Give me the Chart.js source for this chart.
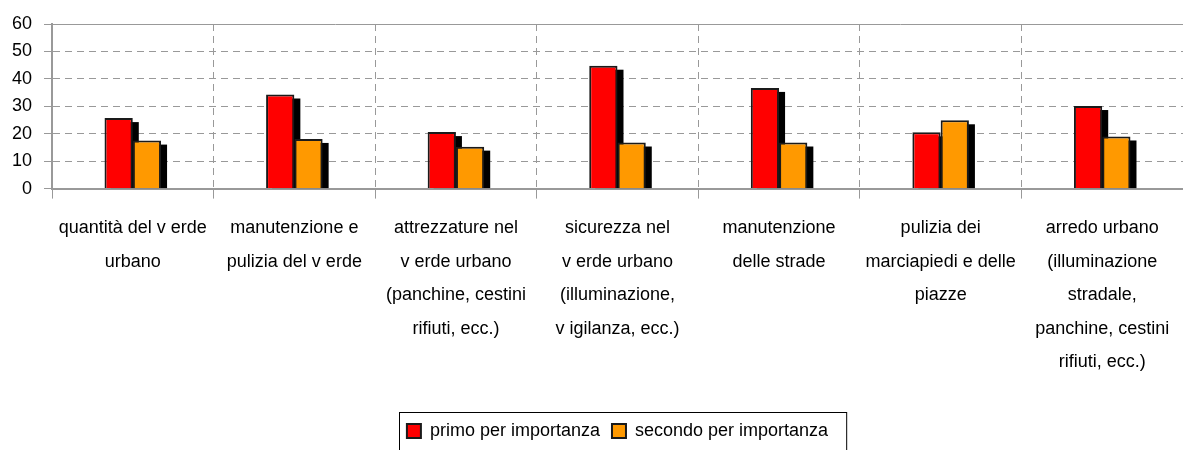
<!DOCTYPE html>
<html>
<head>
<meta charset="utf-8">
<script src="https://cdn.jsdelivr.net/npm/chart.js@4"></script>
<style>
  html, body { margin: 0; padding: 0; background: #fff; overflow: hidden; }
  #wrap { width: 1183px; height: 450px; }
</style>
</head>
<body>
<div id="wrap"><canvas id="myChart"></canvas></div>
<script>
// categorie (etichette asse x, già spezzate in righe)
const categories = [
  ['quantità del v erde', 'urbano'],
  ['manutenzione e', 'pulizia del v erde'],
  ['attrezzature nel', 'v erde urbano', '(panchine, cestini', 'rifiuti, ecc.)'],
  ['sicurezza nel', 'v erde urbano', '(illuminazione,', 'v igilanza, ecc.)'],
  ['manutenzione', 'delle strade'],
  ['pulizia dei', 'marciapiedi e delle', 'piazze'],
  ['arredo urbano', '(illuminazione', 'stradale,', 'panchine, cestini', 'rifiuti, ecc.)']
]
const primo = [25.7, 34.3, 20.6, 44.8, 36.7, 20.5, 30.1]
const secondo = [17.5, 18.1, 15.3, 16.8, 16.8, 24.9, 19.0]
const seriesNames = ['primo per importanza', 'secondo per importanza']
const yTicks = [0, 10, 20, 30, 40, 50, 60]

const FONT = "'Liberation Sans', Arial, sans-serif"

// ombra nera dietro le barre
const barShadow = {
  id: 'barShadow',
  beforeDatasetsDraw(chart) {
    const ctx = chart.ctx
    ctx.save()
    ctx.fillStyle = '#000'
    chart.data.datasets.forEach((ds, i) => {
      chart.getDatasetMeta(i).data.forEach(bar => {
        const w = bar.width
        ctx.fillRect(bar.x - w / 2 + 6, bar.y + 4, w, bar.base - bar.y - 4)
      })
    })
    ctx.restore()
  }
}

// legenda centrata sull'area del grafico, con cornice
const legendFrame = {
  id: 'legendFrame',
  afterLayout(chart) {
    const lg = chart.legend
    const shift = (chart.chartArea.left + chart.chartArea.right) / 2 - (lg.left + lg.right) / 2
    lg.left += shift
    lg.right += shift
  },
  afterDraw(chart) {
    const lg = chart.legend
    if (!lg || !lg.legendHitBoxes.length) return
    const boxes = lg.legendHitBoxes
    const left = Math.min(...boxes.map(b => b.left)) - 8
    const right = Math.max(...boxes.map(b => b.left + b.width)) + 18
    const ctx = chart.ctx
    ctx.save()
    ctx.strokeStyle = '#000'
    ctx.lineWidth = 1
    ctx.strokeRect(Math.round(left) + 0.5, Math.round(lg.top) + 2.5, right - left, chart.height)
    ctx.restore()
  }
}

new Chart(document.getElementById('myChart'), {
  type: 'bar',
  data: {
    labels: categories,
    datasets: [{
      label: seriesNames[0],
      data: primo,
      backgroundColor: '#ff0000',
      borderColor: '#1a1a1a',
      borderWidth: 2
    }, {
      label: seriesNames[1],
      data: secondo,
      backgroundColor: '#ff9900',
      borderColor: '#1a1a1a',
      borderWidth: 2
    }]
  },
  options: {
    responsive: true,
    maintainAspectRatio: false,
    animation: false,
    categoryPercentage: 0.35,
    barPercentage: 1.0,
    layout: { padding: { top: 24, left: 0, right: 0, bottom: 0 } },
    scales: {
      x: {
        offset: true,
        grid: { offset: true, color: '#999', lineWidth: 1, tickLength: 10 },
        border: { display: true, color: '#999', width: 2, dash: [7, 5] },
        ticks: {
          autoSkip: false, maxRotation: 0, minRotation: 0, padding: 13,
          color: '#000', font: { family: FONT, size: 18, lineHeight: 1.86 }
        },
        afterFit(scale) { scale.height += 18 }
      },
      y: {
        min: 0, max: 60,
        afterBuildTicks(scale) { scale.ticks = yTicks.map(v => ({ value: v })) },
        grid: { color: '#999', lineWidth: 1, tickLength: 8 },
        border: {
          display: true, color: '#999', width: 2,
          dash: ctx => (ctx.tick && ctx.tick.value === 60 ? [] : [7, 5])
        },
        ticks: { autoSkip: false, padding: 12, color: '#000', font: { family: FONT, size: 18 } },
        afterFit(scale) { scale.width = 52 }
      }
    },
    plugins: {
      legend: {
        position: 'bottom',
        labels: {
          boxWidth: 14, boxHeight: 14, padding: 12,
          color: '#000', font: { family: FONT, size: 18, lineHeight: 1.0 }
        }
      },
      tooltip: { enabled: false }
    }
  },
  plugins: [barShadow, legendFrame]
})
</script>
</body>
</html>
